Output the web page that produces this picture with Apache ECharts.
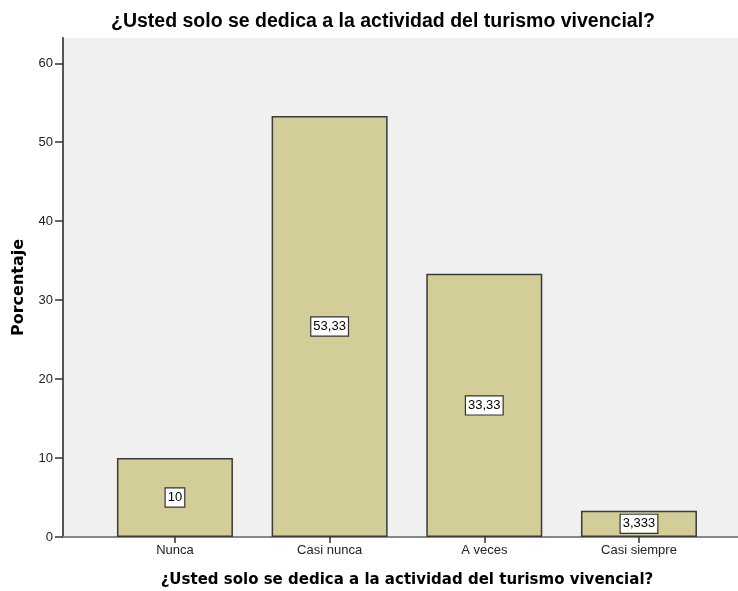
<!DOCTYPE html>
<html><head><meta charset="utf-8">
<script src="https://cdn.jsdelivr.net/npm/echarts@6/dist/echarts.min.js"></script>
<style>html,body{margin:0;padding:0;background:#fff}#c{width:738px;height:591px}</style>
</head><body><div id="c"></div>
<script>
const categories = ['Nunca', 'Casi nunca', 'A veces', 'Casi siempre'];
const percentages = [10, 53.33, 33.33, 3.333];
const valueLabels = ['10', '53,33', '33,33', '3,333'];
const yTicks = [0, 10, 20, 30, 40, 50, 60];
const titleText = '¿Usted solo se dedica a la actividad del turismo vivencial?';
const yName = 'Porcentaje';

const FONT = '"Liberation Sans", Arial, sans-serif';
const BFONT = '"DejaVu Sans", sans-serif';
const Y_MAX = 63.2;
const chart = echarts.init(document.getElementById('c'), null, {renderer: 'canvas'});
chart.setOption({
  animation: false,
  title: {
    text: titleText, left: 106, top: 7,
    textStyle: {fontFamily: FONT, fontSize: 19.5, fontWeight: 'bold', color: '#000'}
  },
  grid: [
    {left: 63, right: 0, top: 38, bottom: 54, show: true, backgroundColor: '#f0f0f0', borderWidth: 0,
      containLabel: false, outerBoundsMode: 'none'},
    {left: 97.6, width: 618.7, top: 38, bottom: 54, containLabel: false, outerBoundsMode: 'none'}
  ],
  xAxis: [
    {gridIndex: 0, type: 'value', min: 0, max: 1, position: 'bottom',
      axisLine: {show: true, onZero: false, lineStyle: {color: '#555', width: 2}},
      axisTick: {show: false}, axisLabel: {show: false}, splitLine: {show: false}},
    {gridIndex: 0, type: 'value', min: 0, max: 1, position: 'top',
      axisLine: {show: true, lineStyle: {color: '#888', width: 2}},
      axisTick: {show: false}, axisLabel: {show: false}, splitLine: {show: false}},
    {gridIndex: 1, type: 'category', data: categories,
      axisLine: {show: false},
      axisTick: {show: true, alignWithLabel: true, length: 6, lineStyle: {color: '#333', width: 1.5}},
      axisLabel: {fontFamily: FONT, fontSize: 13, color: '#222', margin: 7},
      name: titleText, nameLocation: 'middle', nameGap: 36,
      nameTextStyle: {fontFamily: BFONT, fontSize: 15, fontWeight: 'bold', color: '#000'}}
  ],
  yAxis: [
    {gridIndex: 0, type: 'value', min: 0, max: Y_MAX, interval: 10,
      axisLine: {show: true, lineStyle: {color: '#555', width: 2}},
      axisTick: {show: true, length: 8, lineStyle: {color: '#333', width: 1.5},
        customValues: yTicks},
      axisLabel: {fontFamily: FONT, fontSize: 13, color: '#222', margin: 10, customValues: yTicks},
      splitLine: {show: false},
      name: yName, nameLocation: 'middle', nameGap: 36,
      nameTextStyle: {fontFamily: BFONT, fontSize: 16, fontWeight: 'bold', color: '#000'}},
    {gridIndex: 1, type: 'value', min: 0, max: Y_MAX, show: false, splitLine: {show: false}}
  ],
  series: [{
    type: 'bar', xAxisIndex: 2, yAxisIndex: 1,
    data: percentages, barWidth: 116,
    itemStyle: {color: '#d3ce97', borderColor: '#3a3a3a', borderWidth: 1.5},
    label: {
      show: true, position: 'inside',
      formatter: p => valueLabels[p.dataIndex],
      fontFamily: FONT, fontSize: 13, color: '#000',
      backgroundColor: '#fff', borderColor: '#333', borderWidth: 1.2,
      padding: [3, 2, 2, 2]
    }
  }]
});
</script></body></html>
